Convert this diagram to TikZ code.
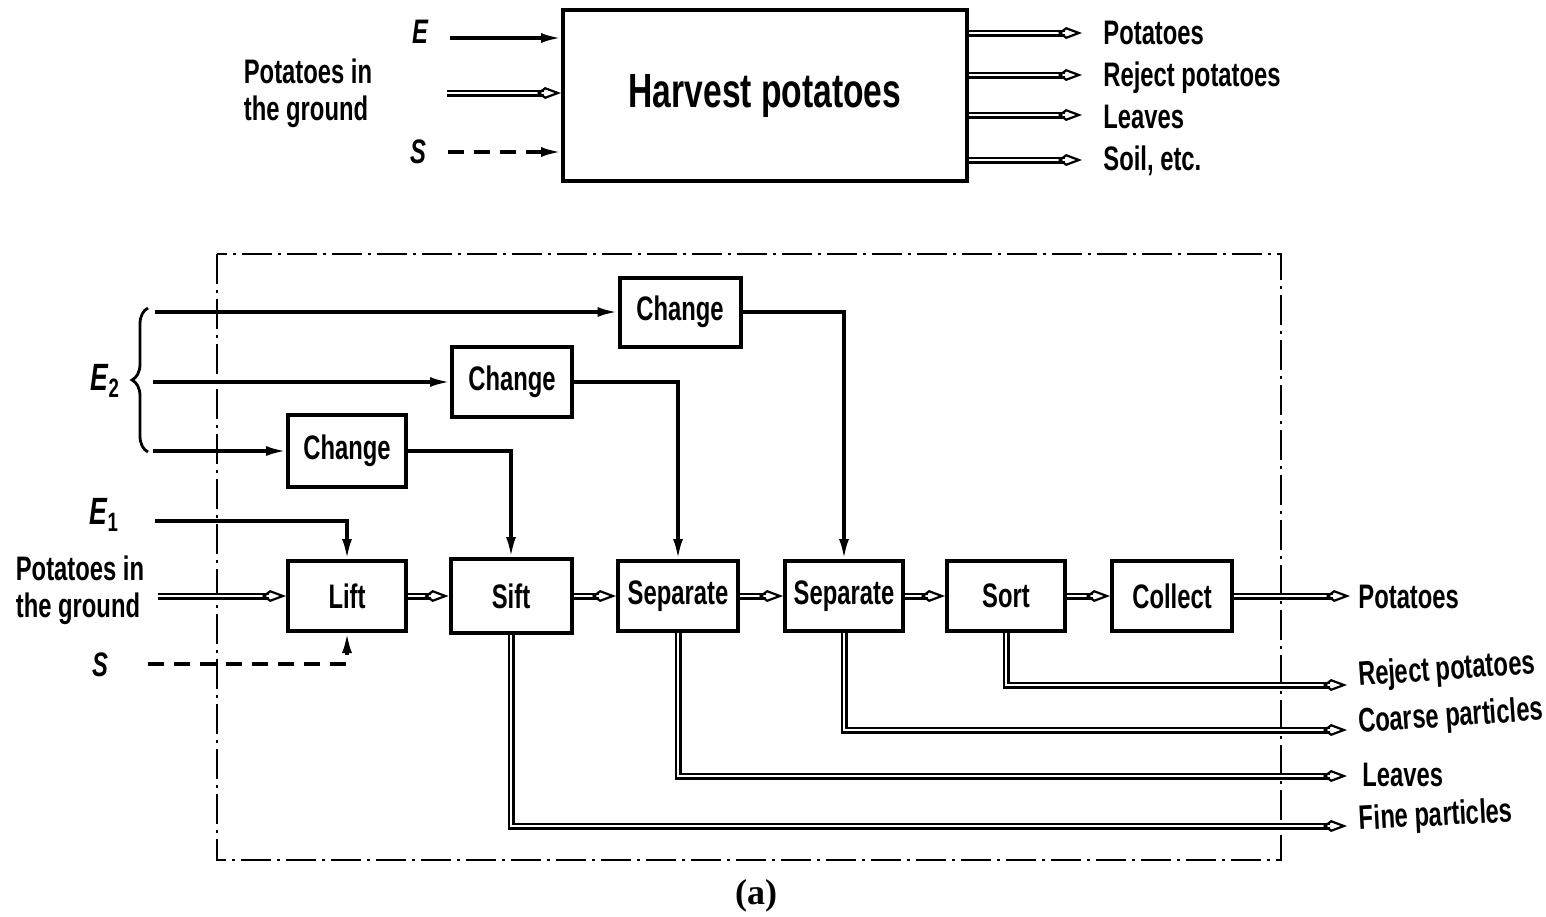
\documentclass[tikz,border=0pt]{standalone}
\usepackage{fontspec}
\setmainfont{Liberation Sans}[FakeStretch=0.7]
\newfontfamily\serf{Liberation Serif}
\usetikzlibrary{arrows.meta,decorations.pathreplacing,calc}
\begin{document}
\begin{tikzpicture}[x=0.5pt,y=-0.5pt,
  box/.style={draw,line width=2pt,minimum width=59pt,minimum height=35pt,inner sep=0pt,font=\fontsize{17}{19}\selectfont\bfseries},
  lbl/.style={font=\fontsize{17}{18.5}\selectfont\bfseries,inner sep=0pt,align=left},
  ilbl/.style={font=\fontsize{17}{18}\selectfont\bfseries\itshape,inner sep=0pt},
  sig/.style={line width=1.6pt,-{Latex[length=10pt,width=5pt]}},
  dsig/.style={sig,dash pattern=on 8pt off 5pt},
  dbl/.style={double,double distance=1.3pt,line width=1.1pt,-{Kite[open,length=12pt,width=6pt,inset=4pt]}},
  frame/.style={line width=1.4pt,dash pattern=on 15pt off 3pt on 1.5pt off 3pt}]
\useasboundingbox (0,0) rectangle (1546,916);

% ---------- top diagram ----------
\node[draw,line width=2pt,minimum width=202pt,minimum height=85.5pt,inner sep=0pt,
      font=\fontsize{24}{26}\selectfont\bfseries] (hp) at (765,95.5) {Harvest potatoes};

\node[ilbl] (tE) at (420,32) {E};
\coordinate (tEs) at (450,38);
\draw[sig] (tEs) -- (tEs -| hp.west);

\node[lbl] (tP) at (308,93) {Potatoes in\\the ground};
\coordinate (tPs) at (447,93);
\draw[dbl] (tPs) -- (tPs -| hp.west);

\node[ilbl] (tS) at (418,152) {S};
\coordinate (tSs) at (448,152);
\draw[dsig] (tSs) -- (tSs -| hp.west);

\coordinate (o1) at (1082,33);
\coordinate (o2) at (1082,75);
\coordinate (o3) at (1082,115);
\coordinate (o4) at (1082,160);
\draw[dbl] (o1 -| hp.east) -- (o1);
\draw[dbl] (o2 -| hp.east) -- (o2);
\draw[dbl] (o3 -| hp.east) -- (o3);
\draw[dbl] (o4 -| hp.east) -- (o4);
\node[lbl,anchor=west] (l1) at (1103,33) {Potatoes};
\node[lbl,anchor=west] (l2) at (1103,78) {Reject potatoes};
\node[lbl,anchor=west] (l3) at (1103,117) {Leaves};
\node[lbl,anchor=west] (l4) at (1103,161) {Soil, etc.};

% ---------- bottom diagram ----------
\draw[frame] (217,254) rectangle (1281,860);

\node[box,minimum width=60.5pt,minimum height=34.5pt] (c1) at (680,312) {Change};
\node[box,minimum width=60pt,minimum height=35pt] (c2) at (512,382) {Change};
\node[box,minimum width=59pt,minimum height=36pt] (c3) at (347,451) {Change};

\node[box] (lift) at (347,596) {Lift};
\node[box,minimum width=60.5pt,minimum height=37pt] (sift) at (511,596) {Sift};
\node[box,minimum width=60pt] (sep1) at (678,596) {Separate};
\node[box] (sep2) at (844,596) {Separate};
\node[box] (sort) at (1006,596) {Sort};
\node[box,minimum width=60pt] (coll) at (1172,596) {Collect};

% E2 inputs
\coordinate (e2a) at (155,312);
\coordinate (e2b) at (153,382);
\coordinate (e2c) at (153,451);
\draw[sig] (e2a) -- (e2a -| c1.west);
\draw[sig] (e2b) -- (e2b -| c2.west);
\draw[sig] (e2c) -- (e2c -| c3.west);
\draw[line width=1.4pt,decorate,decoration={brace,amplitude=8pt}] (148,452) -- (148,308);
\node[lbl,font=\fontsize{19}{20}\selectfont\bfseries] (tE2) at (105,381) {\textit{E}\textsubscript{2}};

% change outputs
\draw[sig] (c1.east) -| (sep2.north);
\draw[sig] (c2.east) -| (sep1.north);
\draw[sig] (c3.east) -| (sift.north);

% lift inputs
\node[lbl,font=\fontsize{19}{20}\selectfont\bfseries] (tE1) at (104,515) {\textit{E}\textsubscript{1}};
\coordinate (e1) at (155,521);
\draw[sig] (e1) -| (lift.north);

\node[lbl] (tP2) at (80,590) {Potatoes in\\the ground};
\coordinate (pg) at (158,596);
\draw[dbl] (pg) -- (lift.west);

\node[ilbl] (tS2) at (100,665) {S};
\coordinate (s1) at (148,664);
\draw[dsig] (s1) -| (lift.south);

% main chain
\draw[dbl] (lift.east) -- (sift.west);
\draw[dbl] (sift.east) -- (sep1.west);
\draw[dbl] (sep1.east) -- (sep2.west);
\draw[dbl] (sep2.east) -- (sort.west);
\draw[dbl] (sort.east) -- (coll.west);

% outputs
\coordinate (oP) at (1350,596);
\coordinate (oR) at (1347,685);
\coordinate (oC) at (1347,730);
\coordinate (oL) at (1347,776);
\coordinate (oF) at (1347,826);
\draw[dbl] (coll.east) -- (oP);
\draw[dbl] (sort.south) |- (oR);
\draw[dbl] (sep2.south) |- (oC);
\draw[dbl] (sep1.south) |- (oL);
\draw[dbl] (sift.south) |- (oF);

\node[lbl,anchor=west] (lP) at (1358,597) {Potatoes};
\node[lbl,anchor=west,rotate=4] (lR) at (1358,677) {Reject potatoes};
\node[lbl,anchor=west,rotate=4] (lC) at (1358,724) {Coarse particles};
\node[lbl,anchor=west] (lL) at (1362,775) {Leaves};
\node[lbl,anchor=west,rotate=3] (lF) at (1359,821) {Fine particles};

\node[font=\serf\bfseries\fontsize{18}{20}\selectfont,inner sep=0pt] (cap) at (756,896) {(a)};
\end{tikzpicture}
\end{document}
